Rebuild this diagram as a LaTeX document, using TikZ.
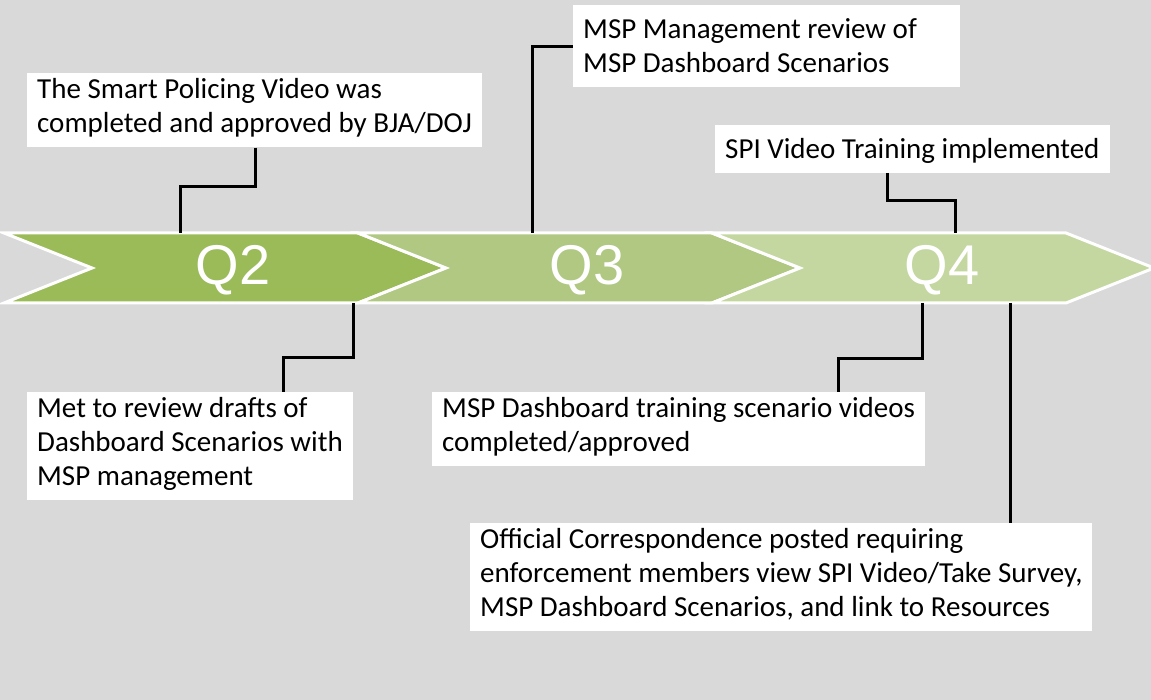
\documentclass[tikz,border=0pt]{standalone}
\usepackage{fontspec}
\setmainfont{Carlito}
\newfontfamily\qfont{Liberation Sans}
\usetikzlibrary{positioning}

\definecolor{bgray}{HTML}{D9D9D9}
\definecolor{qtwo}{HTML}{9BBB59}
\definecolor{qthree}{HTML}{B0C882}
\definecolor{qfour}{HTML}{C4D7A0}

\tikzset{
  note/.style={fill=white, anchor=north west, align=flush left,
    inner xsep=10pt, inner ysep=5.5pt,
    font=\fontsize{29}{34}\selectfont,
    execute at begin node=\rule{0pt}{28pt},
    execute at end node=\rule[-9pt]{0pt}{9pt}},
  link/.style={draw=black, line width=3pt},
  qlabel/.style={text=white, anchor=base, font=\qfont\fontsize{56}{60}\selectfont},
}

\begin{document}
\begin{tikzpicture}[x=1pt,y=-1pt]
\useasboundingbox (0,0) rectangle (1151,700);
\fill[bgray] (0,0) rectangle (1151,700);

% quarter chevrons
\foreach \i/\col in {0/qtwo,1/qthree,2/qfour}{
  \pgfmathsetmacro\L{4+354*\i}
  \filldraw[fill=\col, draw=white, line width=3pt]
    (\L,233) -- ++(354,0) -- ++(88,35) -- ++(-88,35) -- ++(-354,0) -- ++(88,-35) -- cycle;
}
\node[qlabel] (q2) at (233,285) {Q2};
\node[qlabel] (q3) at (587,285) {Q3};
\node[qlabel] (q4) at (942,285) {Q4};

\coordinate (q2up) at (180,233);
\coordinate (q2dn) at (353,303);
\coordinate (q3up) at (532,233);
\coordinate (q4up) at (955,233);
\coordinate (q4dn) at (922,303);
\coordinate (q4end) at (1010,303);

% milestones
\node[note] (smart) at (27,73) {The Smart Policing Video was\\completed and approved by BJA/DOJ};
\node[note, text width=367pt] (mgmt) at (573,5) {MSP Management review of\\MSP Dashboard Scenarios};
\node[note, anchor=south west] (spi) at (715,173) {SPI Video Training implemented};
\node[note] (met) at (27,392) {Met to review drafts of\\Dashboard Scenarios with\\MSP management};
\node[note] (train) at (432,392) {MSP Dashboard training scenario videos\\completed/approved};
\node[note] (offic) at (470,523) {Official Correspondence posted requiring\\enforcement members view SPI Video/Take Survey,\\MSP Dashboard Scenarios, and link to Resources};

% connectors
\draw[link] ([xshift=228pt]smart.south west) -- ++(0,39) -| (q2up);
\draw[link] (q3up) |- (mgmt.west);
\draw[link] ([xshift=172pt]spi.south west) -- ++(0,28) -| (q4up);
\draw[link] (q2dn) -- ++(0,55) -| ([xshift=256pt]met.north west);
\draw[link] (q4dn) -- ++(0,56) -| ([xshift=406pt]train.north west);
\draw[link] (q4end) -- (q4end |- offic.north);
\end{tikzpicture}
\end{document}
